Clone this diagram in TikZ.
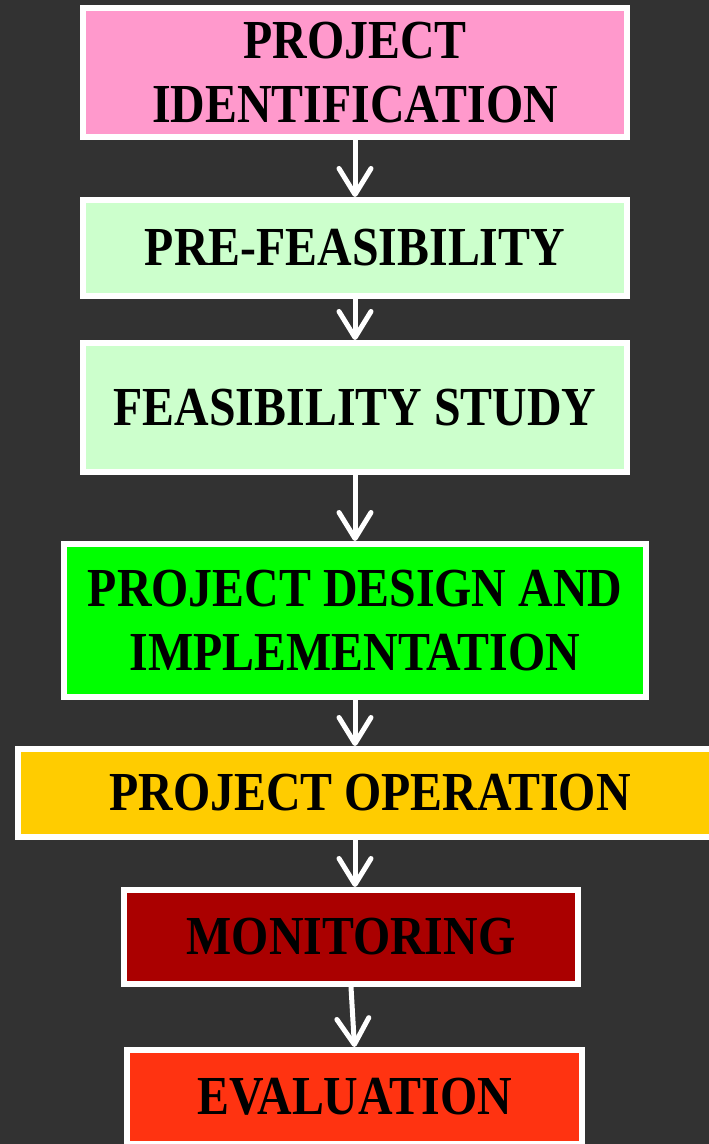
\documentclass[tikz,border=0pt]{standalone}
\usepackage{fontspec}
\setmainfont{Liberation Serif}[FakeStretch=0.87]
\usetikzlibrary{arrows.meta}
\definecolor{bg}{HTML}{323232}
\definecolor{cpink}{HTML}{FF99CC}
\definecolor{clight}{HTML}{CCFFCC}
\definecolor{cgreen}{HTML}{00FF00}
\definecolor{cyellow}{HTML}{FFCC00}
\definecolor{cdark}{HTML}{AA0000}
\definecolor{cred}{HTML}{FF3311}
\begin{document}
\begin{tikzpicture}[x=1pt,y=-1pt,
  stagebox/.style={draw=white, line width=6pt, rectangle, inner sep=0pt, align=center,
    font=\fontsize{55}{64}\selectfont\bfseries, text=black},
  flow/.style={draw=white, line width=5pt, -{Straight Barb[length=26pt,width=32pt,round]}}]
\fill[bg] (0,0) rectangle (709,1144);
\useasboundingbox (0,0) rectangle (709,1144);
\node[stagebox, fill=cpink, minimum width=544pt, minimum height=129pt] (n1) at (355,72.5) {PROJECT\\IDENTIFICATION};
\node[stagebox, fill=clight, minimum width=544pt, minimum height=96pt] (n2) at (355,248) {PRE-FEASIBILITY};
\node[stagebox, fill=clight, minimum width=544pt, minimum height=129pt] (n3) at (355,407.5) {FEASIBILITY STUDY};
\node[stagebox, fill=cgreen, minimum width=582pt, minimum height=153pt] (n4) at (355,620.5) {PROJECT DESIGN AND\\IMPLEMENTATION};
\node[stagebox, fill=cyellow, minimum width=704pt, minimum height=88pt] (n5) at (370,793) {PROJECT OPERATION};
\node[stagebox, fill=cdark, minimum width=454pt, minimum height=94pt] (n6) at (351,937) {MONITORING};
\node[stagebox, fill=cred, minimum width=455pt, minimum height=94pt] (n7) at (354.5,1097) {EVALUATION};
\draw[flow] (n1.south) -- (n2.north);
\draw[flow] (n2.south) -- (n3.north);
\draw[flow] (n3.south) -- (n4.north);
\draw[flow] (n4.south -| n1.south) -- (n5.north -| n1.south);
\draw[flow] (n5.south -| n1.south) -- (n6.north -| n1.south);
\draw[flow] (n6.south) -- (n7.north);
\end{tikzpicture}
\end{document}
